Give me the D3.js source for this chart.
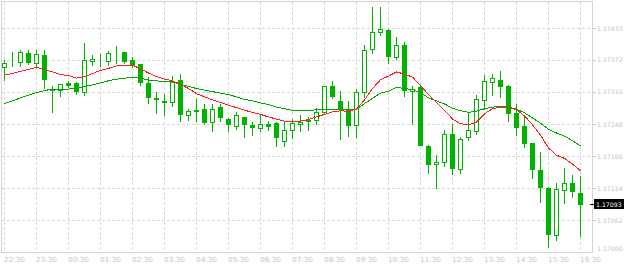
<!DOCTYPE html>
<html>
<head>
<meta charset="utf-8">
<title>EURUSD M15</title>
<script src="https://d3js.org/d3.v7.min.js"></script>
<style>
  body { margin: 0; background: #fff; }
  svg text { font-family: "DejaVu Sans", sans-serif; font-size: 7px; fill: #c4c4c4; }
  svg text.price { font-size: 6.2px; }
</style>
</head>
<body>
<svg id="chart"></svg>
<script>
  // candles, 15 min each, 22:30 -> 16:30
  var open = [1.17359,1.17366,1.17368,1.17386,1.17366,1.17382,1.17316,1.17314,1.17328,1.17328,
    1.17310,1.17371,1.17372,1.17371,1.17387,1.17387,1.17372,1.17364,1.17328,1.17298,
    1.17292,1.17290,1.17333,1.17265,1.17274,1.17277,1.17252,1.17281,1.17259,1.17244,
    1.17261,1.17246,1.17240,1.17248,1.17251,1.17216,1.17236,1.17248,1.17255,1.17257,
    1.17272,1.17322,1.17292,1.17276,1.17246,1.17310,1.17393,1.17427,1.17431,1.17378,
    1.17401,1.17312,1.17320,1.17206,1.17171,1.17174,1.17229,1.17161,1.17223,1.17235,
    1.17295,1.17329,1.17334,1.17322,1.17270,1.17245,1.17211,1.17160,1.17125,1.17034,
    1.17121,1.17134,1.17115];
  var high = [1.17372,1.17388,1.17391,1.17391,1.17391,1.17391,1.17322,1.17326,1.17332,1.17330,
    1.17405,1.17382,1.17383,1.17390,1.17399,1.17388,1.17378,1.17365,1.17339,1.17310,
    1.17306,1.17341,1.17345,1.17278,1.17296,1.17287,1.17288,1.17287,1.17260,1.17272,
    1.17262,1.17253,1.17266,1.17255,1.17252,1.17252,1.17258,1.17266,1.17262,1.17279,
    1.17322,1.17332,1.17313,1.17292,1.17317,1.17401,1.17474,1.17475,1.17432,1.17416,
    1.17407,1.17322,1.17324,1.17208,1.17189,1.17237,1.17248,1.17224,1.17272,1.17305,
    1.17343,1.17346,1.17351,1.17323,1.17287,1.17266,1.17212,1.17194,1.17127,1.17134,
    1.17163,1.17150,1.17148];
  var low = [1.17333,1.17361,1.17360,1.17364,1.17360,1.17318,1.17272,1.17302,1.17320,1.17306,
    1.17305,1.17363,1.17360,1.17362,1.17366,1.17366,1.17359,1.17324,1.17289,1.17270,
    1.17266,1.17283,1.17255,1.17257,1.17254,1.17248,1.17234,1.17255,1.17234,1.17238,
    1.17224,1.17228,1.17234,1.17236,1.17205,1.17205,1.17222,1.17235,1.17237,1.17248,
    1.17269,1.17298,1.17219,1.17226,1.17223,1.17301,1.17386,1.17421,1.17366,1.17374,
    1.17303,1.17248,1.17207,1.17154,1.17125,1.17168,1.17151,1.17154,1.17218,1.17230,
    1.17277,1.17305,1.17301,1.17254,1.17227,1.17203,1.17144,1.17098,1.17010,1.17025,
    1.17095,1.17108,1.17031];
  var close = [1.17366,1.17366,1.17388,1.17368,1.17384,1.17335,1.17314,1.17326,1.17324,1.17312,
    1.17372,1.17375,1.17373,1.17386,1.17388,1.17371,1.17362,1.17330,1.17301,1.17297,
    1.17291,1.17330,1.17267,1.17273,1.17275,1.17252,1.17278,1.17261,1.17248,1.17266,
    1.17248,1.17242,1.17248,1.17245,1.17224,1.17237,1.17251,1.17252,1.17256,1.17272,
    1.17322,1.17303,1.17277,1.17247,1.17310,1.17391,1.17427,1.17433,1.17379,1.17402,
    1.17315,1.17317,1.17208,1.17171,1.17174,1.17230,1.17163,1.17219,1.17237,1.17296,
    1.17332,1.17337,1.17321,1.17270,1.17243,1.17211,1.17161,1.17126,1.17036,1.17122,
    1.17135,1.17118,1.17093];

  // moving averages (red = fast, green = slow)
  var maFast = [1.17343,1.17346,1.17350,1.17354,1.17358,1.17353,1.17349,1.17344,1.17342,1.17337,
    1.17340,1.17346,1.17352,1.17356,1.17361,1.17362,1.17362,1.17355,1.17347,1.17340,
    1.17335,1.17332,1.17325,1.17317,1.17307,1.17301,1.17295,1.17290,1.17285,1.17280,
    1.17275,1.17271,1.17267,1.17262,1.17258,1.17254,1.17254,1.17254,1.17257,1.17262,
    1.17267,1.17272,1.17274,1.17273,1.17277,1.17295,1.17317,1.17334,1.17341,1.17349,
    1.17345,1.17339,1.17323,1.17305,1.17290,1.17275,1.17258,1.17249,1.17247,1.17252,
    1.17268,1.17278,1.17281,1.17280,1.17276,1.17264,1.17247,1.17227,1.17202,1.17188,
    1.17182,1.17171,1.17158];
  var maSlow = [1.17288,1.17293,1.17299,1.17304,1.17309,1.17313,1.17316,1.17316,1.17316,1.17317,
    1.17321,1.17324,1.17328,1.17332,1.17335,1.17337,1.17339,1.17337,1.17333,1.17332,
    1.17330,1.17330,1.17325,1.17321,1.17317,1.17314,1.17311,1.17308,1.17305,1.17301,
    1.17296,1.17293,1.17289,1.17286,1.17281,1.17278,1.17275,1.17274,1.17274,1.17276,
    1.17277,1.17277,1.17277,1.17276,1.17277,1.17288,1.17298,1.17308,1.17312,1.17319,
    1.17317,1.17315,1.17309,1.17299,1.17293,1.17287,1.17279,1.17274,1.17271,1.17273,
    1.17278,1.17281,1.17282,1.17281,1.17277,1.17270,1.17260,1.17250,1.17238,1.17231,
    1.17225,1.17216,1.17206];

  var timeLabels = ["22:30","23:30","00:30","01:30","02:30","03:30","04:30","05:30","06:30",
    "07:30","08:30","09:30","10:30","11:30","12:30","13:30","14:30","15:30","16:30"];
  var priceTicks = [1.17000,1.17062,1.17124,1.17186,1.17248,1.17310,1.17372,1.17433];

  var width = 624, height = 266;
  var plotL = 1.5, plotR = 592.5, plotT = 1.5, plotB = 252.5;
  var candleColor = "#00b300";

  var svg = d3.select("#chart").attr("width", width).attr("height", height);

  var x = d3.scaleLinear().domain([0, open.length - 1]).range([4, 580]);
  var y = d3.scaleLinear().domain([1.17000, 1.17433]).range([252.5, 28.5]);

  function snap(v) { return Math.floor(v) + 0.5; }

  // grid
  var grid = svg.append("g").attr("shape-rendering", "crispEdges")
    .attr("stroke", "#d9d9d9").attr("stroke-dasharray", "3,2");

  grid.selectAll("line.h").data(priceTicks.slice(1)).enter().append("line")
    .attr("x1", plotL).attr("x2", plotR)
    .attr("y1", function(d) { return snap(y(d)); })
    .attr("y2", function(d) { return snap(y(d)); });

  grid.selectAll("line.v").data(timeLabels).enter().append("line")
    .attr("x1", function(d, i) { return x(i * 4) + 0.5; })
    .attr("x2", function(d, i) { return x(i * 4) + 0.5; })
    .attr("y1", plotT).attr("y2", plotB);

  // frame
  svg.append("path")
    .attr("d", "M" + plotL + "," + plotT + "H" + plotR + "V" + plotB + "H" + plotL + "Z")
    .attr("fill", "none").attr("stroke", "#d4d4d4").attr("shape-rendering", "crispEdges");

  // axis labels (squeezed to the narrow widths of the original)
  svg.selectAll("text.time").data(timeLabels).enter().append("text")
    .attr("class", "time")
    .attr("x", function(d, i) { return x(i * 4); })
    .attr("y", 262)
    .attr("textLength", 21).attr("lengthAdjust", "spacingAndGlyphs")
    .text(function(d) { return d; });

  var pl = svg.append("g");
  pl.selectAll("line").data(priceTicks.slice(1)).enter().append("line")
    .attr("x1", 593).attr("x2", 596)
    .attr("y1", function(d) { return snap(y(d)); })
    .attr("y2", function(d) { return snap(y(d)); })
    .attr("stroke", "#c4c4c4").attr("shape-rendering", "crispEdges");
  pl.selectAll("text").data(priceTicks).enter().append("text")
    .attr("class", "price")
    .attr("x", 597)
    .attr("y", function(d) { return Math.min(y(d), 249) + 2.3; })
    .text(function(d) { return d.toFixed(5); });

  // candles
  var idx = d3.range(open.length);
  var candles = svg.append("g").attr("shape-rendering", "crispEdges");

  candles.selectAll("line").data(idx).enter().append("line")
    .attr("x1", function(i) { return x(i) + 0.5; })
    .attr("x2", function(i) { return x(i) + 0.5; })
    .attr("y1", function(i) { return Math.round(y(high[i])); })
    .attr("y2", function(i) { return Math.round(y(low[i])) + 1; })
    .attr("stroke", candleColor);

  candles.selectAll("rect").data(idx).enter().append("rect")
    .each(function(i) {
      var top = Math.round(y(Math.max(open[i], close[i])));
      var bot = Math.round(y(Math.min(open[i], close[i])));
      var r = d3.select(this);
      if (close[i] >= open[i]) {
        // bullish: hollow
        r.attr("x", x(i) - 1.5).attr("y", top + 0.5)
          .attr("width", 4).attr("height", bot - top)
          .attr("fill", "#fff").attr("stroke", candleColor);
      } else {
        r.attr("x", x(i) - 2).attr("y", top)
          .attr("width", 5).attr("height", bot - top + 1)
          .attr("fill", candleColor);
      }
    });

  // moving averages
  var maLine = d3.line()
    .x(function(d, i) { return x(i) + 0.5; })
    .y(function(d) { return y(d); });

  svg.append("path").datum(maSlow).attr("d", maLine)
    .attr("fill", "none").attr("stroke", "#00a800").attr("shape-rendering", "crispEdges");
  svg.append("path").datum(maFast).attr("d", maLine)
    .attr("fill", "none").attr("stroke", "#ff2020").attr("shape-rendering", "crispEdges");

  // last price marker
  var last = close[close.length - 1];
  var ly = snap(y(last));
  svg.append("line").attr("x1", 590).attr("x2", 594).attr("y1", ly).attr("y2", ly)
    .attr("stroke", "#000").attr("shape-rendering", "crispEdges");
  svg.append("rect").attr("x", 594).attr("y", ly - 5.5).attr("width", 30).attr("height", 10)
    .attr("fill", "#000");
  svg.append("text").attr("class", "price").attr("x", 596).attr("y", ly + 2.3)
    .style("fill", "#fff").text(last.toFixed(5));
</script>
</body>
</html>
